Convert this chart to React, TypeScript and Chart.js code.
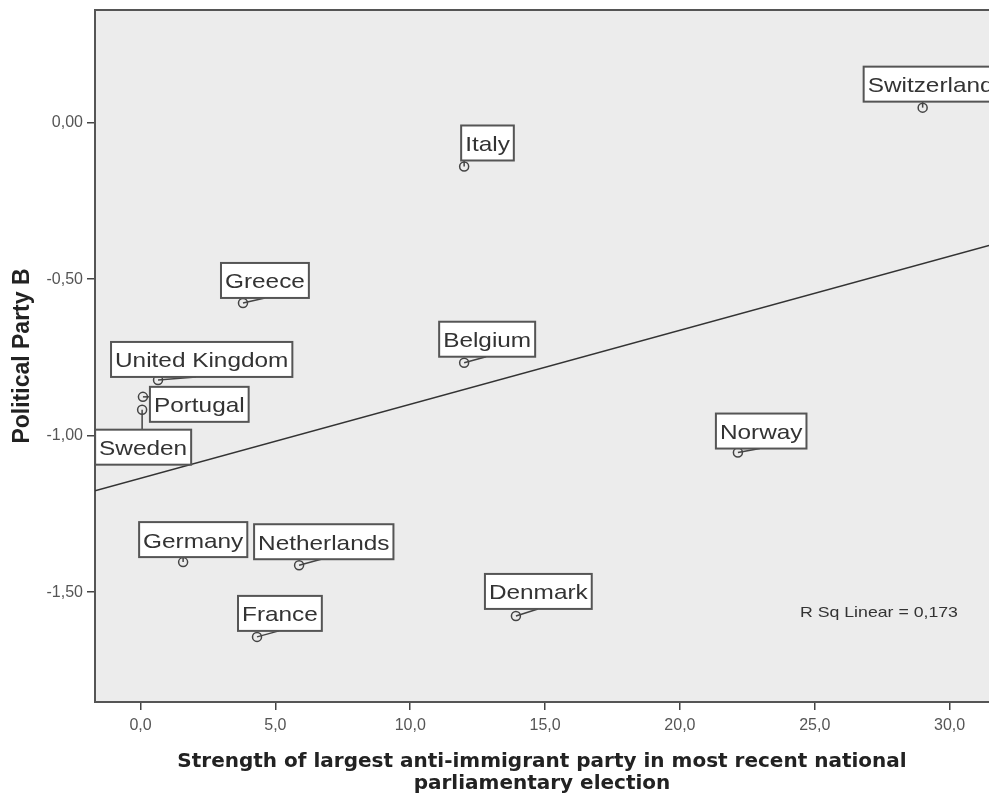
import React, { useEffect, useRef } from "react";
import { Chart, registerables } from "chart.js";

Chart.register(...registerables);

// ---- data ----
const countries = [
  "Switzerland",
  "Italy",
  "Greece",
  "Belgium",
  "United Kingdom",
  "Portugal",
  "Sweden",
  "Norway",
  "Germany",
  "Netherlands",
  "France",
  "Denmark",
];
const antiImmigrantStrength = [29.0, 12.0, 3.8, 12.0, 0.65, 0.09, 0.06, 22.15, 1.58, 5.88, 4.32, 13.92];
const politicalPartyB = [0.048, -0.14, -0.576, -0.767, -0.822, -0.876, -0.917, -1.054, -1.404, -1.414, -1.643, -1.576];
const xTickStep = 5;
const yTickStep = 0.5;
const rSquaredText = "R Sq Linear = 0,173";
const xTitle = ["Strength of largest anti-immigrant party in most recent national", "parliamentary election"];
const yTitle = "Political Party B";

// ---- label placement (layout, not data) ----
const labelOffsets: Record<string, { dx: number; dy: number; lead: number }> = {
  Switzerland: { dx: -59, dy: -41, lead: 0 },
  Italy: { dx: -3, dy: -41, lead: 0 },
  Greece: { dx: -22, dy: -40, lead: 22 },
  Belgium: { dx: -25, dy: -41, lead: 22 },
  "United Kingdom": { dx: -47, dy: -38, lead: 38 },
  Portugal: { dx: 7, dy: -10, lead: 0 },
  Sweden: { dx: -47, dy: 20, lead: 0 },
  Norway: { dx: -22, dy: -39, lead: 22 },
  Germany: { dx: -44, dy: -40, lead: 0 },
  Netherlands: { dx: -45, dy: -41, lead: 22 },
  France: { dx: -19, dy: -41, lead: 22 },
  Denmark: { dx: -31, dy: -42, lead: 22 },
};

const fmt = (v: number, d: number) => v.toFixed(d).replace(".", ",");

function linearFit(xs: number[], ys: number[]) {
  const n = xs.length;
  const mx = xs.reduce((a, b) => a + b, 0) / n;
  const my = ys.reduce((a, b) => a + b, 0) / n;
  let sxy = 0;
  let sxx = 0;
  for (let i = 0; i < n; i++) {
    sxy += (xs[i] - mx) * (ys[i] - my);
    sxx += (xs[i] - mx) * (xs[i] - mx);
  }
  const b = sxy / sxx;
  return { a: my - b * mx, b };
}

const X_MIN = -1.687;
const X_MAX = 31.46;
const Y_MIN = -1.851;
const Y_MAX = 0.36;

const TEXT_STRETCH = 1.16;

const backgroundPlugin = {
  id: "plotBackground",
  beforeDraw(chart: any) {
    const { ctx, chartArea } = chart;
    ctx.save();
    ctx.fillStyle = "#ececec";
    ctx.fillRect(chartArea.left, chartArea.top, chartArea.right - chartArea.left, chartArea.bottom - chartArea.top);
    ctx.restore();
  },
  afterDraw(chart: any) {
    const { ctx, chartArea } = chart;
    ctx.save();
    ctx.strokeStyle = "#555";
    ctx.lineWidth = 2;
    ctx.beginPath();
    ctx.moveTo(chartArea.left - 1, chartArea.top);
    ctx.lineTo(chartArea.right, chartArea.top);
    ctx.stroke();
    // R squared annotation
    ctx.font = '15px "Liberation Sans", Arial, sans-serif';
    ctx.fillStyle = "#333";
    ctx.textBaseline = "middle";
    ctx.translate(chartArea.right - 189, chartArea.bottom - 89);
    ctx.scale(1.18, 1);
    ctx.fillText(rSquaredText, 0, 0);
    ctx.restore();
  },
};

const labelPlugin = {
  id: "countryLabels",
  afterDatasetsDraw(chart: any) {
    const meta = chart.getDatasetMeta(1);
    const ctx = chart.ctx;
    ctx.save();
    ctx.font = '21px "Liberation Sans", Arial, sans-serif';
    const boxes = meta.data.map((pt: any, i: number) => {
      const name = countries[i];
      const o = labelOffsets[name] || { dx: 5, dy: -40, lead: 0 };
      const tw = ctx.measureText(name).width * TEXT_STRETCH;
      const bw = tw + 8;
      const bh = 35;
      const bx = pt.x + o.dx;
      const by = pt.y + o.dy;
      return { name, pt, bx, by, bw, bh, lead: o.lead };
    });
    // leaders
    ctx.strokeStyle = "#444";
    ctx.lineWidth = 1.5;
    boxes.forEach((b: any) => {
      const tx = Math.min(Math.max(b.pt.x + b.lead, b.bx), b.bx + b.bw);
      const ty = Math.min(Math.max(b.pt.y, b.by), b.by + b.bh);
      ctx.beginPath();
      ctx.moveTo(b.pt.x, b.pt.y);
      ctx.lineTo(tx, ty);
      ctx.stroke();
    });
    // boxes
    boxes.forEach((b: any) => {
      ctx.fillStyle = "#ffffff";
      ctx.fillRect(b.bx, b.by, b.bw, b.bh);
      ctx.strokeStyle = "#555";
      ctx.lineWidth = 2;
      ctx.strokeRect(b.bx, b.by, b.bw, b.bh);
      ctx.save();
      ctx.fillStyle = "#333";
      ctx.textBaseline = "alphabetic";
      ctx.translate(b.bx + 4, b.by + 25.5);
      ctx.scale(TEXT_STRETCH, 1);
      ctx.fillText(b.name, 0, 0);
      ctx.restore();
    });
    ctx.restore();
  },
};

export default function App() {
  const canvasRef = useRef<HTMLCanvasElement | null>(null);

  useEffect(() => {
    document.body.style.margin = "0";
    const canvas = canvasRef.current;
    if (!canvas) return;
    const fit = linearFit(antiImmigrantStrength, politicalPartyB);
    const points = antiImmigrantStrength.map((x, i) => ({ x, y: politicalPartyB[i] }));
    const fitLine = [
      { x: X_MIN, y: fit.a + fit.b * X_MIN },
      { x: X_MAX, y: fit.a + fit.b * X_MAX },
    ];

    const chart = new Chart(canvas, {
      type: "scatter",
      data: {
        datasets: [
          {
            type: "line",
            label: "Linear fit",
            data: fitLine,
            borderColor: "#333",
            borderWidth: 1.5,
            pointRadius: 0,
            fill: false,
          } as any,
          {
            label: "Countries",
            data: points,
            pointRadius: 4.5,
            pointBorderColor: "#444",
            pointBackgroundColor: "rgba(0,0,0,0)",
            pointBorderWidth: 1.5,
          },
        ],
      },
      options: {
        responsive: false,
        animation: false,
        layout: { autoPadding: false, padding: { top: 10, right: 0, left: 0, bottom: 0 } },
        plugins: {
          legend: { display: false },
          tooltip: { enabled: false },
        },
        scales: {
          x: {
            type: "linear",
            min: X_MIN,
            max: X_MAX,
            afterFit: (scale: any) => {
              scale.height = 94;
              scale.paddingLeft = 0;
              scale.paddingRight = 0;
            },
            ticks: {
              stepSize: xTickStep,
              includeBounds: false,
              color: "#555",
              padding: 6,
              font: { family: '"Liberation Sans", Arial, sans-serif', size: 16 },
              callback: (v: any) => fmt(Number(v), 1),
            },
            grid: { drawOnChartArea: false, drawTicks: true, tickLength: 8, color: "#444", lineWidth: 1.5 },
            border: { display: true, color: "#555", width: 2 },
            title: {
              display: true,
              text: xTitle,
              color: "#222",
              padding: { top: 0, bottom: 1 },
              font: { family: '"DejaVu Sans", sans-serif', size: 20, weight: "bold", lineHeight: 1.1 },
            },
          },
          y: {
            type: "linear",
            min: Y_MIN,
            max: Y_MAX,
            afterFit: (scale: any) => {
              scale.width = 95;
              scale.paddingTop = 0;
              scale.paddingBottom = 0;
            },
            ticks: {
              stepSize: yTickStep,
              includeBounds: false,
              color: "#555",
              padding: 4,
              font: { family: '"Liberation Sans", Arial, sans-serif', size: 16 },
              callback: (v: any) => fmt(Number(v), 2),
            },
            grid: { drawOnChartArea: false, drawTicks: true, tickLength: 8, color: "#444", lineWidth: 1.5 },
            border: { display: true, color: "#555", width: 2 },
            title: {
              display: true,
              text: yTitle,
              color: "#222",
              padding: { top: 9, bottom: 0 },
              font: { family: '"Liberation Sans", Arial, sans-serif', size: 23, weight: "bold" },
            },
          },
        },
      },
      plugins: [backgroundPlugin, labelPlugin],
    } as any);

    return () => chart.destroy();
  }, []);

  return (
    <div style={{ width: 989, height: 796, background: "#fff" }}>
      <canvas ref={canvasRef} width={989} height={796} style={{ display: "block" }} />
    </div>
  );
}
